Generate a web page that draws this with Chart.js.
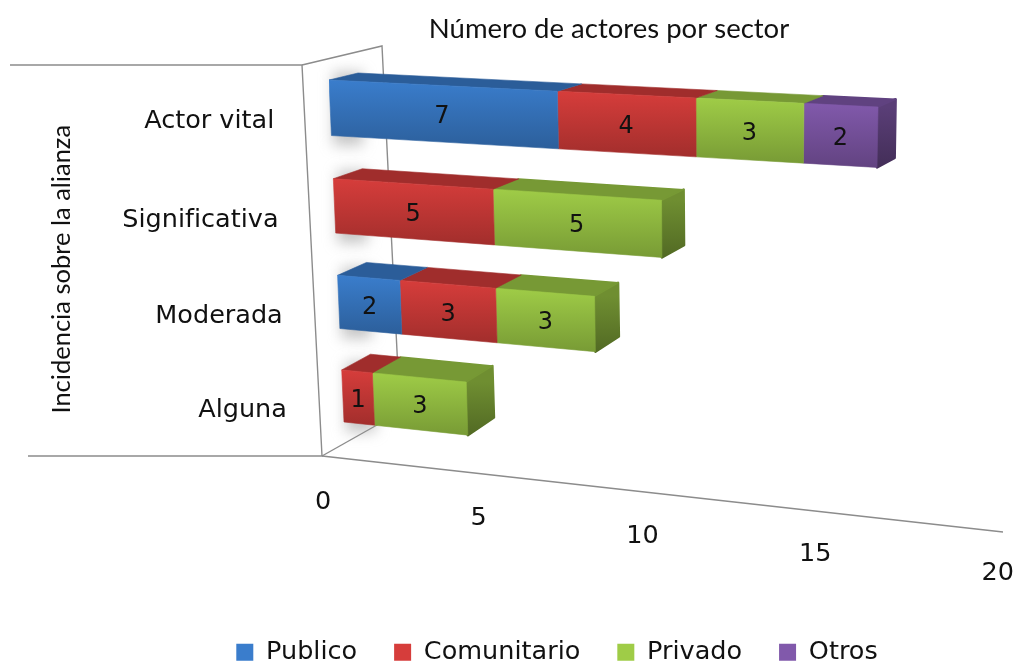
<!DOCTYPE html>
<html lang="es">
<head>
<meta charset="utf-8">
<title>Número de actores por sector</title>
<style>html,body{margin:0;padding:0;background:#fff;overflow:hidden}canvas{display:block;filter:blur(0.5px)}</style>
<script src="https://cdn.jsdelivr.net/npm/chart.js@4"></script>
</head>
<body>
<canvas id="c" width="1018" height="662"></canvas>
<script>
const categories = ['Actor vital', 'Significativa', 'Moderada', 'Alguna'];
const publico = [7, 0, 2, 0];
const comunitario = [4, 5, 3, 1];
const privado = [3, 5, 3, 3];
const otros = [2, 0, 0, 0];
const xTicks = [0, 5, 10, 15, 20];
const chartTitle = 'Número de actores por sector';
const axisTitle = 'Incidencia sobre la alianza';

// perspective of the front plane of the bars: value 0 / value 16, first bar top / last bar bottom
const QUAD = [[329, 80], [878, 107], [872, 478], [344, 422]];
const QUAD_VALUE = 16, BAR_FRAC = 0.56;

function quadMap(p) {
  const [[x0, y0], [x1, y1], [x2, y2], [x3, y3]] = p;
  const dx1 = x1 - x2, dx2 = x3 - x2, sx = x0 - x1 + x2 - x3;
  const dy1 = y1 - y2, dy2 = y3 - y2, sy = y0 - y1 + y2 - y3;
  const den = dx1 * dy2 - dx2 * dy1;
  const g = (sx * dy2 - dx2 * sy) / den, h = (dx1 * sy - sx * dy1) / den;
  const a = x1 - x0 + g * x1, b = x3 - x0 + h * x3, d = y1 - y0 + g * y1, e = y3 - y0 + h * y3;
  return (u, v) => {
    const w = g * u + h * v + 1;
    return [(a * u + b * v + x0) / w, (d * u + e * v + y0) / w];
  };
}
const unit = quadMap(QUAD);
let project = (u, w) => [u, w];
let yBandTop = 0, yBandBottom = 0;

function depth(p) {
  return [p[0] + 29 - (p[0] - 329) * 0.0207, p[1] - 7 - (p[1] - 80) * 0.03];
}
function shade(hex, k) {
  const n = parseInt(hex.slice(1), 16);
  return `rgb(${((n >> 16) & 255) * k | 0},${((n >> 8) & 255) * k | 0},${(n & 255) * k | 0})`;
}
function poly(ctx, pts, fill, edge) {
  ctx.beginPath();
  pts.forEach((p, i) => i ? ctx.lineTo(p[0], p[1]) : ctx.moveTo(p[0], p[1]));
  ctx.closePath();
  ctx.fillStyle = fill;
  ctx.fill();
  if (edge) {
    ctx.strokeStyle = fill;
    ctx.lineWidth = edge;
    ctx.lineJoin = 'round';
    ctx.stroke();
  }
}

// Every bar is drawn from the geometry the library computed, through the projection.
Chart.BarElement.prototype.draw = function (ctx) {
  const { x, y, base, height } = this.getProps(['x', 'y', 'base', 'height']);
  if (Math.abs(x - base) < 0.5) return;
  const color = this.options.backgroundColor;
  const fl = project(base, y - height / 2), fr = project(x, y - height / 2);
  const nl = project(base, y + height / 2), nr = project(x, y + height / 2);
  const bl = depth(fl), br = depth(fr), brb = depth(nr);
  ctx.save();
  if (this.$stackEnd) {
    const g = ctx.createLinearGradient(0, fr[1], 0, nr[1]);
    g.addColorStop(0, shade(color, 0.7));
    g.addColorStop(1, shade(color, 0.52));
    poly(ctx, [fr, br, brb, nr], g, 2.5);
  }
  poly(ctx, [fl, fr, br, bl], shade(color, 0.75), this.$stackEnd ? 1.5 : 0.6);
  const g = ctx.createLinearGradient(0, Math.min(fl[1], fr[1]), 0, Math.max(nl[1], nr[1]));
  g.addColorStop(0, color);
  g.addColorStop(1, shade(color, 0.76));
  poly(ctx, [fl, fr, nr, nl], g, 0.6);
  ctx.restore();
};

const perspective3d = {
  id: 'perspective3d',
  afterLayout(chart) {
    const sx = chart.scales.x, sy = chart.scales.y;
    const band = Math.abs(sy.getPixelForValue(1) - sy.getPixelForValue(0));
    const u0 = sx.getPixelForValue(0), u1 = sx.getPixelForValue(QUAD_VALUE);
    yBandTop = sy.getPixelForValue(0) - band * BAR_FRAC / 2;
    yBandBottom = sy.getPixelForValue(categories.length - 1) + band * BAR_FRAC / 2;
    project = (u, w) => unit((u - u0) / (u1 - u0), (w - yBandTop) / (yBandBottom - yBandTop));
    chart.titleBlock.left += 87;
    chart.titleBlock.right += 87;
    chart.titleBlock.top += 1;
    chart.titleBlock.bottom += 1;
    chart.legend.left += 35;
    chart.legend.right += 35;
    chart.legend.top += 13;
    chart.legend.bottom += 13;
  },
  beforeDraw(chart) {
    const sx = chart.scales.x, sy = chart.scales.y;
    sy.getLabelItems().forEach((item, i) => {
      const p = project(sx.getPixelForValue(0), sy.getPixelForValue(i));
      item.options.translation = [p[0] - 56, p[1] + 14];
      item.options.textAlign = 'right';
      item.options.textBaseline = 'middle';
      item.textOffset = 0;
    });
    sx.getLabelItems().forEach((item, i) => {
      const p = project(sx.getPixelForValue(sx.ticks[i].value), yBandBottom);
      item.options.translation = [p[0] - 21, p[1] + 80];
      item.options.textAlign = 'center';
      item.options.textBaseline = 'middle';
      item.textOffset = 0;
    });
  },
  beforeDatasetsDraw(chart) {
    const { ctx, scales: { x: sx, y: sy } } = chart;
    // frame: side wall, back wall edge, floor
    ctx.save();
    ctx.strokeStyle = '#8c8c8c';
    ctx.lineWidth = 1.4;
    [
      [[10, 65], [302, 65], [322, 456], [28, 456]],
      [[302, 65], [382, 46], [400, 412]],
      [[322, 456], [400, 412]],
      [[322, 456], [1003, 532]]
    ].forEach(line => {
      ctx.beginPath();
      line.forEach((p, i) => i ? ctx.lineTo(p[0], p[1]) : ctx.moveTo(p[0], p[1]));
      ctx.stroke();
    });
    // soft shadows on the back wall
    const band = Math.abs(sy.getPixelForValue(1) - sy.getPixelForValue(0));
    ctx.filter = 'blur(7px)';
    categories.forEach((c, i) => {
      const t = project(sx.getPixelForValue(0), sy.getPixelForValue(i) - band * BAR_FRAC / 2);
      const b = project(sx.getPixelForValue(0), sy.getPixelForValue(i) + band * BAR_FRAC / 2);
      ctx.fillStyle = 'rgba(150,150,150,0.55)';
      ctx.fillRect(t[0] + 4, t[1] - 8, 30, b[1] - t[1] + 18);
    });
    ctx.restore();
    // which segment ends each stack
    categories.forEach((c, i) => {
      let last = null;
      chart.data.datasets.forEach((d, k) => {
        if (d.data[i] > 0) last = chart.getDatasetMeta(k).data[i];
        chart.getDatasetMeta(k).data[i].$stackEnd = false;
      });
      if (last) last.$stackEnd = true;
    });
  },
  afterDatasetsDraw(chart) {
    const { ctx } = chart;
    ctx.save();
    ctx.font = '24px "DejaVu Sans"';
    ctx.fillStyle = '#111';
    ctx.textAlign = 'center';
    ctx.textBaseline = 'middle';
    chart.data.datasets.forEach((d, k) => {
      chart.getDatasetMeta(k).data.forEach((el, i) => {
        if (!d.data[i]) return;
        const p = project((el.x + el.base) / 2, el.y);
        ctx.fillText(String(d.data[i]), p[0], p[1] + 3);
      });
    });
    ctx.restore();
  }
};

const labelFont = { family: '"DejaVu Sans"', size: 25.5 };
new Chart(document.getElementById('c'), {
  type: 'bar',
  plugins: [perspective3d],
  data: {
    labels: categories,
    datasets: [
      { label: 'Publico', data: publico, backgroundColor: '#3a7dcc' },
      { label: 'Comunitario', data: comunitario, backgroundColor: '#d63d3b' },
      { label: 'Privado', data: privado, backgroundColor: '#9fcc47' },
      { label: 'Otros', data: otros, backgroundColor: '#8159ab' }
    ]
  },
  options: {
    indexAxis: 'y',
    responsive: false,
    animation: false,
    categoryPercentage: BAR_FRAC,
    barPercentage: 1,
    layout: { padding: { left: 46, right: 20 } },
    scales: {
      x: {
        stacked: true, min: xTicks[0], max: xTicks[xTicks.length - 1],
        grid: { display: false }, border: { display: false },
        afterFit(s) { s.height = 120; },
        afterBuildTicks(s) { s.ticks = xTicks.map(value => ({ value })); },
        ticks: { font: labelFont, color: '#111', maxRotation: 0, autoSkip: false, padding: 0 }
      },
      y: {
        stacked: true,
        grid: { display: false }, border: { display: false },
        afterFit(s) { s.width = 283; },
        ticks: { font: labelFont, color: '#111', autoSkip: false },
        title: { display: true, text: axisTitle, font: { family: 'Lato', size: 25.5 }, color: '#111', padding: 0 }
      }
    },
    plugins: {
      tooltip: { enabled: false },
      title: {
        display: true, text: chartTitle, color: '#111',
        font: { family: 'Lato', size: 27.5, weight: 'normal' },
        padding: { top: 12, bottom: 24 }
      },
      legend: {
        position: 'bottom',
        labels: { font: labelFont, color: '#111', boxWidth: 17, boxHeight: 17, padding: 37 }
      }
    }
  }
});
</script>
</body>
</html>
